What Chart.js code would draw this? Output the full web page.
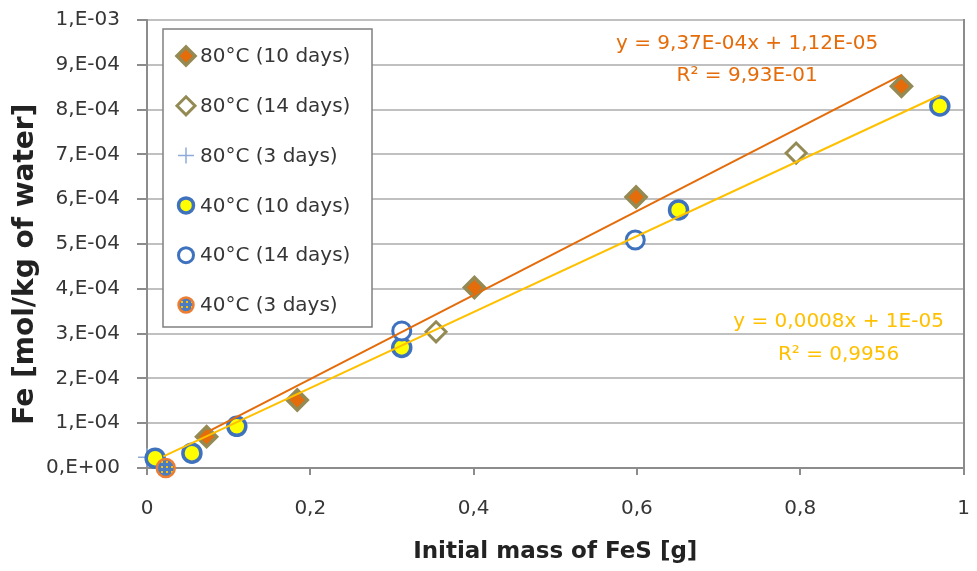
<!DOCTYPE html>
<html>
<head>
<meta charset="utf-8">
<script src="https://cdn.jsdelivr.net/npm/chart.js@4/dist/chart.umd.min.js"></script>
<style>
    html, body { margin: 0; padding: 0; background: #fff; }
    #wrap { width: 977px; height: 571px; }
</style>
</head>
<body>
<div id="wrap"><canvas id="feChart"></canvas></div>
<script>
// values (x: initial mass of FeS [g], y: Fe [mol/kg of water])
const seriesLabels = ['80°C (10 days)', '80°C (14 days)', '80°C (3 days)', '40°C (10 days)', '40°C (14 days)', '40°C (3 days)'];

const fe80d10 = [{x: 0.073, y: 7.0e-5}, {x: 0.184, y: 1.52e-4}, {x: 0.401, y: 4.03e-4}, {x: 0.599, y: 6.05e-4}, {x: 0.924, y: 8.52e-4}];
const fe80d14 = [{x: 0.354, y: 3.04e-4}, {x: 0.795, y: 7.03e-4}];
const fe80d3 = [{x: 0.0, y: 2.4e-5}];
const fe40d10 = [{x: 0.01, y: 2.2e-5}, {x: 0.055, y: 3.3e-5}, {x: 0.110, y: 9.3e-5}, {x: 0.312, y: 2.69e-4}, {x: 0.651, y: 5.76e-4}, {x: 0.971, y: 8.08e-4}];
const fe40d14 = [{x: 0.312, y: 3.06e-4}, {x: 0.598, y: 5.09e-4}];
const fe40d3 = [{x: 0.023, y: 0}];

// trendlines (end points)
const trend80 = [{x: 0.07, y: 7.68e-5}, {x: 0.924, y: 8.77e-4}];
const trend40 = [{x: 0.02, y: 2.6e-5}, {x: 0.971, y: 8.32e-4}];

const eq80 = ['y = 9,37E-04x + 1,12E-05', 'R² = 9,93E-01'];
const eq40 = ['y = 0,0008x + 1E-05', 'R² = 0,9956'];

const xTicks = [0, 0.2, 0.4, 0.6, 0.8, 1];
const yTicks = [0, 1e-4, 2e-4, 3e-4, 4e-4, 5e-4, 6e-4, 7e-4, 8e-4, 9e-4, 1e-3];

const xTitle = 'Initial mass of FeS [g]';
const yTitle = 'Fe [mol/kg of water]';

const FONT = 'DejaVu Sans';
const TEXT = '#363636';
const TITLE = '#222222';
const AXIS = '#8c8c8c';
const ORANGE = '#e46c0a';
const YELLOW = '#ffc000';
const OLIVE = '#948a54';
const BLUE = '#3f72be';

// dotted fill for the 40°C (3 days) marker
function makeDotPattern() {
    const c = document.createElement('canvas');
    c.width = 5;
    c.height = 5;
    const g = c.getContext('2d');
    g.fillStyle = '#4a7cc4';
    g.fillRect(0, 0, 5, 5);
    g.fillStyle = '#ffc000';
    g.fillRect(1, 1, 2, 2);
    return g.createPattern(c, 'repeat');
}
const dotPattern = makeDotPattern();

function sciLabel(v) {
    if (Math.abs(v) < 1e-12) return '0,E+00';
    const s = v.toExponential(0);
    const [m, e] = s.split('e');
    const n = parseInt(e, 10);
    const sign = n < 0 ? '-' : '+';
    return m + ',E' + sign + String(Math.abs(n)).padStart(2, '0');
}

const markerStyles = [
    {pointStyle: 'rectRot', radius: 10, legendRadius: 9, backgroundColor: ORANGE, borderColor: OLIVE, borderWidth: 3.5},
    {pointStyle: 'rectRot', radius: 10, legendRadius: 9, backgroundColor: '#ffffff', borderColor: OLIVE, borderWidth: 3},
    {pointStyle: 'cross', radius: 9, legendRadius: 8, backgroundColor: '#8eaadb', borderColor: '#8eaadb', borderWidth: 1.5},
    {pointStyle: 'circle', radius: 9, legendRadius: 7.5, backgroundColor: '#ffff00', borderColor: BLUE, borderWidth: 3.5},
    {pointStyle: 'circle', radius: 9, legendRadius: 7.5, backgroundColor: '#ffffff', borderColor: BLUE, borderWidth: 3},
    {pointStyle: 'circle', radius: 9, legendRadius: 7.5, backgroundColor: dotPattern, borderColor: '#ed7d31', borderWidth: 2.5}
];
const seriesData = [fe80d10, fe80d14, fe80d3, fe40d10, fe40d14, fe40d3];

const pointDatasets = seriesData.map((d, i) => ({
    label: seriesLabels[i],
    data: d,
    pointStyle: markerStyles[i].pointStyle,
    pointRadius: markerStyles[i].radius,
    pointBackgroundColor: markerStyles[i].backgroundColor,
    pointBorderColor: markerStyles[i].borderColor,
    pointBorderWidth: markerStyles[i].borderWidth,
    showLine: false,
    clip: false,
    order: 10 - i
}));

const trendDatasets = [
    {label: 'trend80', data: trend80, borderColor: ORANGE},
    {label: 'trend40', data: trend40, borderColor: YELLOW}
].map(t => Object.assign(t, {
    type: 'line',
    showLine: true,
    pointRadius: 0,
    borderWidth: 2,
    fill: false,
    clip: false,
    order: 0
}));

//===----------------------------------------------------------------------===//
//                 Plugins: legend box, equations, y title
//===----------------------------------------------------------------------===//

const legendBox = {
    id: 'legendBox',
    afterDraw(chart) {
        const ctx = chart.ctx;
        const left = 163, top = 29, w = 209, h = 298, rowH = 49.8;
        ctx.save();
        ctx.fillStyle = '#ffffff';
        ctx.fillRect(left, top, w, h);
        ctx.strokeStyle = '#808080';
        ctx.lineWidth = 1.5;
        ctx.strokeRect(left, top, w, h);
        ctx.font = '20px "' + FONT + '"';
        ctx.textBaseline = 'middle';
        seriesLabels.forEach((label, i) => {
            const y = top + 27 + i * rowH;
            const st = markerStyles[i];
            ctx.fillStyle = st.backgroundColor;
            ctx.strokeStyle = st.borderColor;
            ctx.lineWidth = st.borderWidth;
            Chart.helpers.drawPoint(ctx, {
                pointStyle: st.pointStyle,
                radius: st.legendRadius,
                rotation: 0,
                borderWidth: st.borderWidth
            }, 186, y);
            ctx.fillStyle = TEXT;
            ctx.textAlign = 'left';
            ctx.fillText(label, 200, y + 1);
        });
        ctx.restore();
    }
};

const equations = {
    id: 'equations',
    afterDraw(chart) {
        const ctx = chart.ctx;
        const xs = chart.scales.x, ys = chart.scales.y;
        ctx.save();
        ctx.font = '20px "' + FONT + '"';
        ctx.textAlign = 'center';
        ctx.textBaseline = 'middle';
        ctx.fillStyle = ORANGE;
        ctx.fillText(eq80[0], xs.getPixelForValue(0.735), ys.getPixelForValue(9.46e-4));
        ctx.fillText(eq80[1], xs.getPixelForValue(0.735), ys.getPixelForValue(8.75e-4));
        ctx.fillStyle = YELLOW;
        ctx.fillText(eq40[0], xs.getPixelForValue(0.847), ys.getPixelForValue(3.26e-4));
        ctx.fillText(eq40[1], xs.getPixelForValue(0.847), ys.getPixelForValue(2.53e-4));
        ctx.restore();
    }
};

// the y title sits a bit below the middle of the axis in the original
const yAxisTitle = {
    id: 'yAxisTitle',
    afterDraw(chart) {
        const ctx = chart.ctx;
        const ys = chart.scales.y;
        ctx.save();
        ctx.translate(26, ys.getPixelForValue(4.55e-4));
        ctx.rotate(-Math.PI / 2);
        ctx.font = 'bold 28px "' + FONT + '"';
        ctx.fillStyle = TITLE;
        ctx.textAlign = 'center';
        ctx.textBaseline = 'middle';
        ctx.fillText(yTitle, 0, 0);
        ctx.restore();
    }
};

//===----------------------------------------------------------------------===//

new Chart(document.getElementById('feChart'), {
    type: 'scatter',
    data: {
        datasets: trendDatasets.concat(pointDatasets)
    },
    options: {
        responsive: true,
        maintainAspectRatio: false,
        animation: false,
        events: [],
        layout: {
            padding: {top: 20, right: 0, left: 0, bottom: 0}
        },
        scales: {
            x: {
                type: 'linear',
                min: 0,
                max: 1,
                afterBuildTicks: s => { s.ticks = xTicks.map(v => ({value: v})); },
                afterFit: s => {
                    s.height = 103;
                    s.paddingLeft = 0;
                    s.paddingRight = 0;
                },
                ticks: {
                    font: {family: FONT, size: 20},
                    color: TEXT,
                    padding: 22,
                    maxRotation: 0,
                    callback: v => String(Math.round(v * 10) / 10).replace('.', ',')
                },
                grid: {drawOnChartArea: false, drawTicks: true, tickLength: 7, color: AXIS, lineWidth: 2},
                border: {color: AXIS, width: 2},
                title: {
                    display: true,
                    text: xTitle,
                    font: {family: FONT, size: 23, weight: 'bold'},
                    color: TITLE,
                    padding: {top: 0, bottom: 5}
                }
            },
            y: {
                type: 'linear',
                min: 0,
                max: 1e-3,
                afterBuildTicks: s => { s.ticks = yTicks.map(v => ({value: v})); },
                afterFit: s => {
                    s.width = 147;
                    s.paddingTop = 0;
                    s.paddingBottom = 0;
                },
                ticks: {
                    font: {family: FONT, size: 20},
                    color: TEXT,
                    padding: 17,
                    callback: v => sciLabel(v)
                },
                grid: {color: '#c0c0c0', lineWidth: 2, tickLength: 10, tickColor: AXIS},
                border: {color: AXIS, width: 2},
                title: {display: false}
            },
            yR: {
                type: 'linear',
                position: 'right',
                min: 0,
                max: 1e-3,
                afterFit: s => {
                    s.width = 10;
                    s.paddingTop = 0;
                    s.paddingBottom = 0;
                },
                ticks: {display: false},
                grid: {drawOnChartArea: false, drawTicks: false},
                border: {color: AXIS, width: 2}
            }
        },
        plugins: {
            legend: {display: false},
            tooltip: {enabled: false}
        }
    },
    plugins: [legendBox, equations, yAxisTitle]
});
</script>
</body>
</html>
